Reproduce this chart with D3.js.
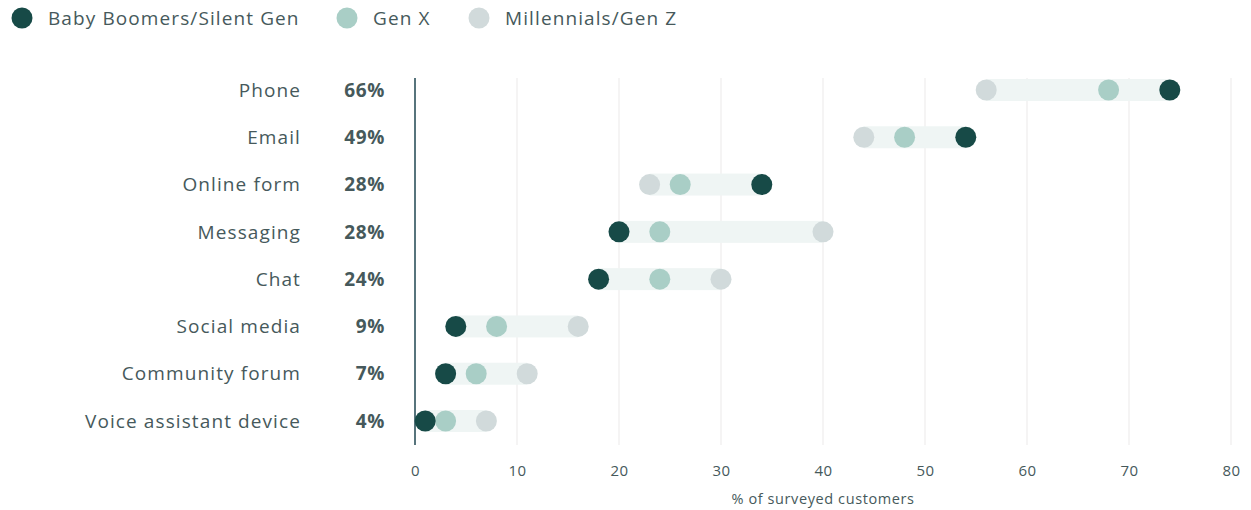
<!DOCTYPE html>
<html>
<head>
<meta charset="utf-8">
<script src="https://cdn.jsdelivr.net/npm/d3@7"></script>
<style>
  body { margin: 0; background: #fff; }
  text { font-family: "Open Sans", Lato, sans-serif; }
</style>
</head>
<body>
<div id="chart"></div>
<script>
// dumbbell chart: channel preference by generation

var width = 1251,
    height = 510;

var channels = ["Phone", "Email", "Online form", "Messaging", "Chat", "Social media", "Community forum", "Voice assistant device"];
var totals = ["66%", "49%", "28%", "28%", "24%", "9%", "7%", "4%"];
var boomers = [74, 54, 34, 20, 18, 4, 3, 1];
var genX = [68, 48, 26, 24, 24, 8, 6, 3];
var millennials = [56, 44, 23, 40, 30, 16, 11, 7];
var xTicks = [0, 10, 20, 30, 40, 50, 60, 70, 80];

var series = [
  { name: "Millennials/Gen Z", values: millennials, color: "#d1dadb" },
  { name: "Gen X", values: genX, color: "#a9cec6" },
  { name: "Baby Boomers/Silent Gen", values: boomers, color: "#174a47" }
];
var legendOrder = [series[2], series[1], series[0]];

var textColor = "#46595b";

var svg = d3.select("#chart").append("svg")
    .attr("width", width)
    .attr("height", height);

var x = d3.scaleLinear()
    .domain([0, 80])
    .range([415, 1231]);

var y = d3.scalePoint()
    .domain(channels)
    .range([90, 421]);

// grid
svg.selectAll("line.grid")
   .data(xTicks.slice(1))
   .enter().append("line")
   .attr("class", "grid")
   .attr("x1", function(d) { return x(d); })
   .attr("x2", function(d) { return x(d); })
   .attr("y1", 78)
   .attr("y2", 445)
   .attr("stroke", "#efeded")
   .attr("stroke-width", 1.2);

// x axis (labels only)
var xAxis = svg.append("g")
   .attr("transform", "translate(0,471)")
   .call(d3.axisBottom(x).tickValues(xTicks).tickSize(0).tickPadding(0));
xAxis.select(".domain").remove();
xAxis.selectAll("text")
   .attr("dy", "0.35em")
   .attr("font-size", 15)
   .attr("fill", textColor)
   .style("letter-spacing", "0.5px")
   .style("font-family", "'Open Sans', Lato, sans-serif");

svg.append("text")
   .attr("x", x(40))
   .attr("y", 504)
   .attr("text-anchor", "middle")
   .attr("font-size", 14.5)
   .attr("fill", textColor)
   .style("letter-spacing", "0.6px")
   .text("% of surveyed customers");

// bands from min to max
svg.selectAll("rect.band")
   .data(channels)
   .enter().append("rect")
   .attr("class", "band")
   .attr("x", function(d, i) { return x(Math.min(boomers[i], genX[i], millennials[i])); })
   .attr("width", function(d, i) {
      return x(Math.max(boomers[i], genX[i], millennials[i])) - x(Math.min(boomers[i], genX[i], millennials[i]));
   })
   .attr("y", function(d) { return y(d) - 11; })
   .attr("height", 22)
   .attr("fill", "#eff5f4");

// zero line
svg.append("line")
   .attr("x1", x(0)).attr("x2", x(0))
   .attr("y1", 78).attr("y2", 445)
   .attr("stroke", "#1f4650")
   .attr("stroke-width", 1.5);

// dots
series.forEach(function(s) {
  svg.append("g").selectAll("circle")
     .data(channels)
     .enter().append("circle")
     .attr("cx", function(d, i) { return x(s.values[i]); })
     .attr("cy", function(d) { return y(d); })
     .attr("r", 10.5)
     .attr("fill", s.color);
});

// category labels
svg.selectAll("text.cat")
   .data(channels)
   .enter().append("text")
   .attr("class", "cat")
   .attr("x", 301)
   .attr("y", function(d) { return y(d); })
   .attr("dy", "0.35em")
   .attr("text-anchor", "end")
   .attr("font-size", 19)
   .attr("fill", textColor)
   .style("letter-spacing", "1.1px")
   .text(function(d) { return d; });

svg.selectAll("text.total")
   .data(totals)
   .enter().append("text")
   .attr("class", "total")
   .attr("x", 385)
   .attr("y", function(d, i) { return y(channels[i]); })
   .attr("dy", "0.35em")
   .attr("text-anchor", "end")
   .attr("font-size", 19)
   .attr("font-weight", "bold")
   .attr("fill", textColor)
   .style("letter-spacing", "0.6px")
   .text(function(d) { return d; });

// legend
var legendX = [22, 347, 479];
var legend = svg.selectAll("g.legend")
   .data(legendOrder)
   .enter().append("g")
   .attr("class", "legend")
   .attr("transform", function(d, i) { return "translate(" + legendX[i] + ",18)"; });
legend.append("circle")
   .attr("r", 10.5)
   .attr("fill", function(d) { return d.color; });
legend.append("text")
   .attr("x", 26)
   .attr("dy", "0.35em")
   .attr("font-size", 19)
   .attr("fill", textColor)
   .style("letter-spacing", "1.1px")
   .text(function(d) { return d.name; });
</script>
</body>
</html>
